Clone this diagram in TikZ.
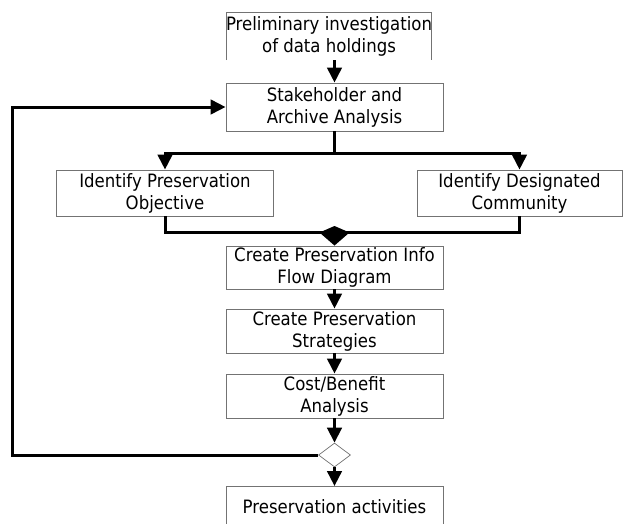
\documentclass[tikz,border=0pt]{standalone}
\usepackage{fontspec}
\setmainfont{DejaVu Sans}[FakeStretch=0.9]
\usetikzlibrary{arrows.meta,shapes.geometric,calc}

\begin{document}
\begin{tikzpicture}[x=1pt,y=-1pt,
  box/.style={draw=black!55, line width=0.9pt, align=center, inner sep=0pt,
    minimum width=217pt, minimum height=46pt,
    font=\fontsize{18.4}{22}\selectfont},
  plain/.style={align=center, inner sep=0pt, font=\fontsize{18.4}{22}\selectfont},
  link/.style={line width=3pt, black},
  conn/.style={link, -{Triangle[length=15pt,width=14.5pt]}},
  choice/.style={diamond, draw=black!55, line width=0.7pt, fill=white,
    minimum width=32pt, minimum height=24pt, inner sep=0pt}]
\useasboundingbox (0,0) rectangle (624,523);

% first box, drawn open at the bottom
\node[plain] (pre) at (329,36) {Preliminary investigation\\of data holdings};
\draw[draw=black!55, line width=0.9pt] (226,60) -- (226,12) -- (431,12) -- (431,60);
\coordinate (preb) at (334.5,60);

\node[box, minimum height=48pt] (sh) at (334.5,107) {Stakeholder and\\Archive Analysis};
\node[box] (obj) at (165,193) {Identify Preservation\\Objective};
\node[box, minimum width=205pt] (com) at (519.5,193) {Identify Designated\\Community};
\node[box, minimum height=43pt] (info) at (334.5,267.5) {Create Preservation Info\\Flow Diagram};
\node[box, minimum height=44pt] (strat) at (334.5,331) {Create Preservation\\Strategies};
\node[box, minimum height=44pt] (cost) at (334.5,396) {Cost/Benefit\\Analysis};
\node[choice] (dia) at (334.5,455) {};

% last box, open at the bottom edge of the page
\node[plain] (act) at (334.5,507) {Preservation activities};
\draw[draw=black!55, line width=0.9pt] (226,530) -- (226,486) -- (443,486) -- (443,530);
\coordinate (actt) at (334.5,486);

% main flow
\draw[conn] (preb) -- (sh.north);
\draw[link] (sh.south) -- ++(0,22) coordinate (split);
\draw[conn] (split) -| (obj.north);
\draw[conn] (split) -| (com.north);

% merge into the info flow box
\coordinate (mj) at (334.5,232);
\draw[link] (obj.south) |- (mj) -| (com.south);
\fill[black] ($(mj)+(-15,0.5)$) -- ($(mj)+(0,-6)$) -- ($(mj)+(15,0.5)$) -- (info.north) -- cycle;

\draw[conn] (info.south) -- (strat.north);
\draw[conn] (strat.south) -- (cost.north);
\draw[conn] (cost.south) -- (dia.north);
\draw[conn] (dia.south) -- (actt);

% feedback loop back to the analysis step
\coordinate (fb) at (12,455);
\draw[conn] (dia.west) -- (fb) |- (sh.west);
\end{tikzpicture}
\end{document}
